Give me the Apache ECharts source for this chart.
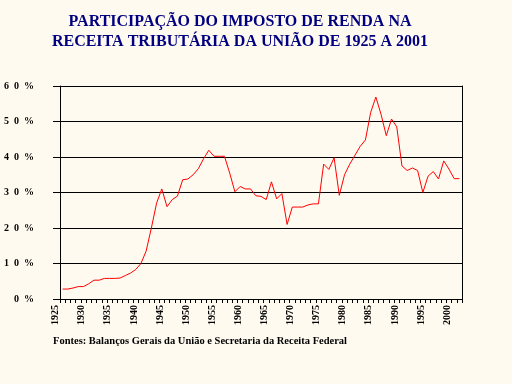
<!DOCTYPE html>
<html>
<head>
<meta charset="utf-8">
<script src="https://cdn.jsdelivr.net/npm/echarts@6/dist/echarts.min.js"></script>
<style>
html,body{margin:0;padding:0;background:#fffaf0;}
#c{width:512px;height:384px;}
</style>
</head>
<body>
<div id="c"></div>
<script>
const titleLines = ['PARTICIPAÇÃO DO IMPOSTO DE RENDA NA', 'RECEITA TRIBUTÁRIA DA UNIÃO DE 1925 A 2001'];
const sourceText = 'Fontes: Balanços Gerais da União e Secretaria da Receita Federal';
const years = [];
for (let y = 1925; y <= 2001; y++) years.push(String(y));
const share = [
  2.8, 2.8, 3.1, 3.5, 3.5, 4.3, 5.3, 5.3, 5.8, 5.8,
  5.8, 5.9, 6.6, 7.3, 8.3, 10.0, 13.5, 20.0, 27.0, 31.0,
  26.0, 28.0, 29.0, 33.6, 33.8, 35.0, 36.7, 39.5, 41.9, 40.2,
  40.2, 40.2, 35.5, 30.2, 31.7, 31.0, 31.0, 29.1, 28.9, 28.0,
  33.0, 28.2, 29.7, 21.0, 25.9, 25.9, 25.9, 26.5, 26.8, 26.8,
  38.0, 36.5, 39.8, 29.2, 35.0, 38.0, 40.5, 43.0, 44.8, 52.5,
  56.9, 52.0, 46.0, 50.7, 48.5, 37.5, 36.2, 36.9, 36.2, 30.0,
  34.6, 35.9, 33.8, 38.9, 36.6, 33.9, 33.9
];
const yTicks = [0, 10, 20, 30, 40, 50, 60];

const serif = '"Liberation Serif", "Times New Roman", serif';
const chart = echarts.init(document.getElementById('c'));
chart.setOption({
  backgroundColor: '#fffaf0',
  animation: false,
  grid: {left: 60, right: 50, top: 86, bottom: 85, containLabel: false},
  xAxis: {
    type: 'category',
    data: years,
    boundaryGap: true,
    axisLine: {lineStyle: {color: '#000', width: 1}},
    axisTick: {show: true, interval: 0, length: 4, lineStyle: {color: '#000'}},
    axisLabel: {
      interval: (i) => i % 5 === 0,
      rotate: 90,
      margin: 6,
      hideOverlap: false,
      showMinLabel: true,
      formatter: (v) => '{a|' + v + '}\n{b| }',
      rich: {
        a: {lineHeight: 10, fontSize: 10, fontWeight: 'bold', fontFamily: serif, color: '#000'},
        b: {lineHeight: 14, fontSize: 10, fontFamily: serif}
      },
      color: '#000',
      fontFamily: serif,
      fontWeight: 'bold',
      fontSize: 10
    },
    splitLine: {show: false}
  },
  yAxis: [{
    type: 'value',
    min: yTicks[0],
    max: yTicks[yTicks.length - 1],
    interval: 10,
    axisLine: {show: true, lineStyle: {color: '#000', width: 1}},
    axisTick: {show: true, length: 7, lineStyle: {color: '#000'}},
    axisLabel: {
      margin: 26,
      color: '#000',
      fontFamily: serif,
      fontWeight: 'bold',
      fontSize: 10,
      formatter: (v) => String(v).split('').join('  ') + '  %'
    },
    splitLine: {show: true, lineStyle: {color: '#000', width: 1}}
  }, {
    type: 'value',
    position: 'right',
    min: yTicks[0],
    max: yTicks[yTicks.length - 1],
    interval: 10,
    axisLine: {show: true, lineStyle: {color: '#000', width: 1}},
    axisTick: {show: false},
    axisLabel: {show: false},
    splitLine: {show: false}
  }],
  series: [{
    type: 'line',
    data: share,
    showSymbol: false,
    symbol: 'none',
    lineStyle: {color: '#ff0000', width: 1},
    itemStyle: {color: '#ff0000'}
  }],
  graphic: [
    {type: 'text', x: 240, y: 22, style: {text: titleLines[0], fill: '#000080', font: 'bold 16px ' + serif, textAlign: 'center', textVerticalAlign: 'middle'}},
    {type: 'text', x: 240, y: 42, style: {text: titleLines[1], fill: '#000080', font: 'bold 16px ' + serif, textAlign: 'center', textVerticalAlign: 'middle'}},
    {type: 'text', x: 53, y: 341, style: {text: sourceText, fill: '#000', font: 'bold 10.5px ' + serif, textAlign: 'left', textVerticalAlign: 'middle'}}
  ]
});
</script>
</body>
</html>
